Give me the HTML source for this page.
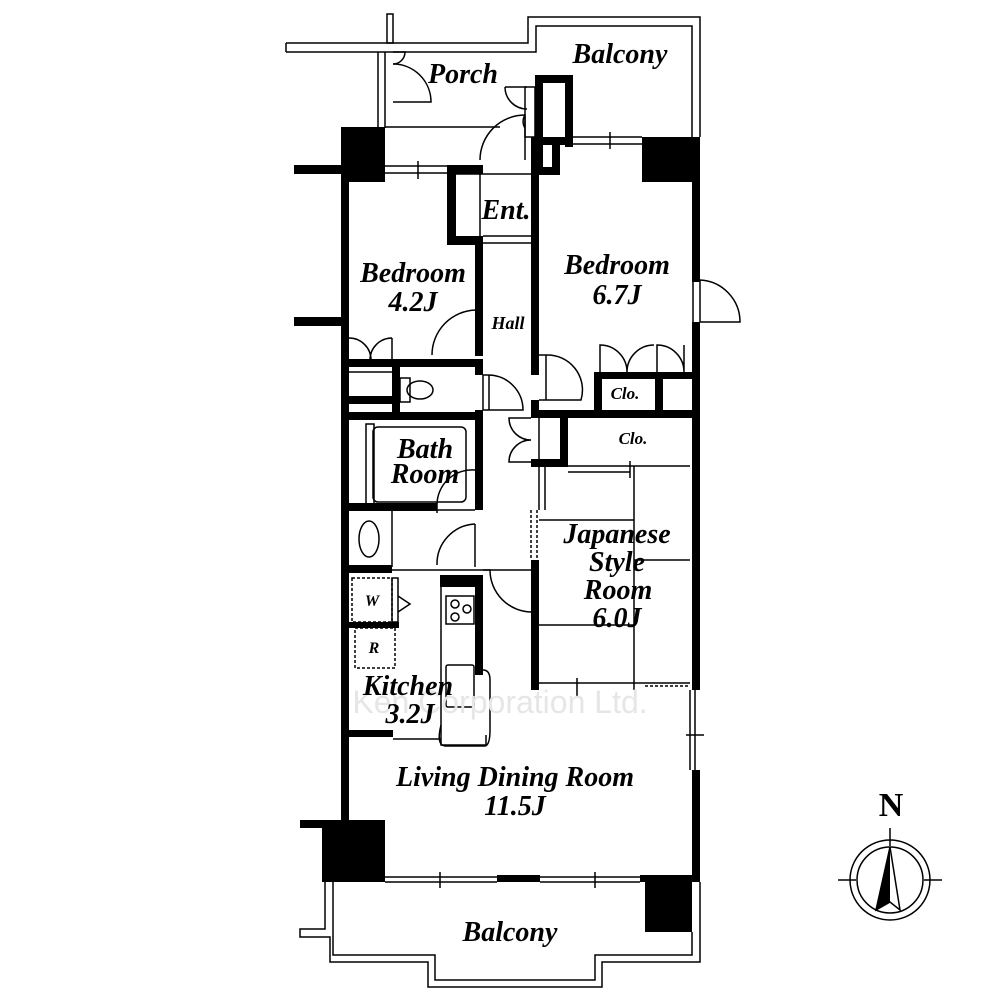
<!DOCTYPE html>
<html><head><meta charset="utf-8"><style>
html,body{margin:0;padding:0;background:#fff}
svg{display:block}
text{font-family:"Liberation Serif",serif;font-weight:bold;font-style:italic;fill:#000;text-anchor:middle}
</style></head><body>
<svg width="1000" height="1000" viewBox="0 0 1000 1000" xmlns="http://www.w3.org/2000/svg">
<g fill="none" stroke="#000" stroke-width="1.5">
<path d="M286,43 H528 V17 H700 V137"/>
<path d="M286,52 H536 V26 H692 V137"/>
<path d="M286,43 V52"/>
<rect x="387" y="14" width="6" height="29"/>
<path d="M378,52 V128 M385,52 V128"/>
<path d="M385,127 H500"/>
<path d="M393,52 H405 A12,12 0 0 1 393,64"/>
<path d="M393,64 A38,38 0 0 1 431,102 H393"/>
<path d="M480,160 A45,45 0 0 1 525,115 V160"/>
<path d="M505,87 A22,22 0 0 0 527,109"/>
<path d="M505,87 H527 M525,115 A12,12 0 0 0 525,128"/>
<rect x="525" y="87" width="10" height="50"/>
<path d="M385,166 H447 M385,173 H447 M418,161 V179"/>
<path d="M573,137 H642 M573,144 H642 M610,132 V149"/>
<path d="M456,174 H531 M483,236 H531 M483,243 H531 M480,174 V243"/>
<path d="M432,355 A45,45 0 0 1 476,310 V355"/>
<path d="M349,338 A22,22 0 0 1 371,360 M392,338 A22,22 0 0 0 370,360 M392,338 V360"/>
<path d="M349,366 H392 M349,372 H392"/>
<rect x="400" y="378" width="10" height="24"/>
<ellipse cx="420" cy="390" rx="13" ry="9"/>
<path d="M483,375 H488 A35,35 0 0 1 523,410 H483"/>
<path d="M483,375 V410 M489,375 V410"/>
<path d="M531,418 H509 A22,22 0 0 0 531,440 M531,462 H509 A22,22 0 0 1 531,440 M539,418 V462"/>
<path d="M539,355 H546 A35,35 0 0 1 581,400 H539 M546,355 V400"/>
<path d="M600,372 V345 A27,27 0 0 1 627,372 M654,345 A27,27 0 0 0 627,372 M657,372 V345 A27,27 0 0 1 684,372 M684,345 V372"/>
<path d="M700,280 A42,42 0 0 1 740,322 H700 M700,280 V322 M693,280 V322"/>
<rect x="373" y="427" width="93" height="75" rx="5"/>
<rect x="366" y="424" width="8" height="82"/>
<path d="M437,505 A35,35 0 0 1 475,470 M437,505 V513"/>
<path d="M349,510 H475 M392,510 V567"/>
<ellipse cx="369" cy="539" rx="10" ry="18"/>
<path d="M437,565 A40,40 0 0 1 475,524 M475,524 V567"/>
<path d="M392,570 H531"/>
<path d="M441,580 V745 H486 V735"/>
<rect x="446" y="596" width="28" height="28"/>
<circle cx="455" cy="604" r="4"/><circle cx="467" cy="609" r="4"/><circle cx="455" cy="617" r="4"/>
<rect x="446" y="665" width="28" height="42" rx="2"/>
<path d="M441,725 Q436,745 445,746 H485 Q490,745 490,730 V680 Q490,670 483,670"/>
<path d="M393,739 H441"/>
<path d="M483,570 H490 A42,42 0 0 0 532,612 V570"/>
<rect x="352" y="578" width="40" height="44" stroke-dasharray="3,2"/>
<rect x="392" y="578" width="6" height="44"/>
<path d="M398,596 L410,604 L398,612"/>
<rect x="355" y="628" width="40" height="40" stroke-dasharray="3,2"/>
<path d="M634,466 V690 M539,520 H634 M634,560 H690 M539,625 H634"/>
<path d="M568,466 H690 M568,472 H630 M630,461 V478"/>
<path d="M539,466 V510 M545,466 V510"/>
<path d="M531,510 V560 M537,510 V560" stroke-dasharray="3,2"/>
<path d="M539,683 H640 M577,678 V696 M640,683 H690"/>
<path d="M645,686 H690" stroke-dasharray="3,2"/>
<path d="M690,690 V770 M695,690 V770 M686,735 H704"/>
<path d="M385,877 H497 M385,882 H497 M440,872 V888 M540,877 H640 M540,882 H640 M595,872 V888"/>
<path d="M325,882 V929 H300 V937 H330 V962 H428 V987 H602 V962 H700 V882"/>
<path d="M333,882 V955 H435 V980 H595 V955 H692 V932"/>
<circle cx="890" cy="880" r="40"/>
<circle cx="890" cy="880" r="33"/>
<path d="M838,880 H856 M924,880 H942 M890,828 V846"/>
<path d="M890,847 L876,910 L890,902 L900,910 Z"/>
</g>
<g fill="#000">
<rect x="535" y="75" width="38" height="8"/><rect x="535" y="75" width="8" height="62"/><rect x="565" y="75" width="8" height="72"/>
<rect x="535" y="137" width="38" height="8"/>
<rect x="535" y="145" width="8" height="30"/><rect x="552" y="145" width="8" height="22"/><rect x="535" y="167" width="25" height="8"/>
<rect x="341" y="127" width="44" height="55"/>
<rect x="294" y="165" width="50" height="9"/>
<rect x="294" y="317" width="50" height="9"/>
<rect x="341" y="182" width="8" height="640"/>
<rect x="447" y="165" width="36" height="9"/>
<rect x="447" y="165" width="9" height="80"/>
<rect x="447" y="236" width="36" height="9"/>
<rect x="475" y="236" width="8" height="120"/>
<rect x="531" y="137" width="8" height="238"/>
<rect x="531" y="400" width="8" height="18"/>
<rect x="642" y="137" width="58" height="45"/>
<rect x="692" y="182" width="8" height="100"/>
<rect x="692" y="322" width="8" height="368"/>
<rect x="692" y="770" width="8" height="112"/>
<rect x="349" y="359" width="134" height="8"/>
<rect x="475" y="359" width="8" height="16"/>
<rect x="392" y="359" width="8" height="53"/>
<rect x="349" y="396" width="43" height="8"/>
<rect x="349" y="412" width="134" height="8"/>
<rect x="475" y="410" width="8" height="100"/>
<rect x="349" y="503" width="88" height="8"/>
<rect x="349" y="565" width="43" height="8"/>
<rect x="349" y="622" width="50" height="6"/>
<rect x="440" y="575" width="40" height="12"/>
<rect x="475" y="575" width="8" height="100"/>
<rect x="349" y="730" width="44" height="7"/>
<rect x="594" y="372" width="8" height="44"/>
<rect x="594" y="372" width="98" height="7"/>
<rect x="655" y="372" width="8" height="44"/>
<rect x="531" y="410" width="161" height="8"/>
<rect x="560" y="410" width="8" height="56"/>
<rect x="531" y="459" width="37" height="8"/>
<rect x="531" y="560" width="8" height="130"/>
<rect x="300" y="820" width="85" height="8"/>
<rect x="322" y="820" width="63" height="62"/>
<rect x="497" y="875" width="43" height="7"/>
<rect x="640" y="875" width="52" height="7"/>
<rect x="645" y="875" width="47" height="57"/>
<path d="M890,847 L876,910 L890,902 Z"/>
</g>
<text x="500" y="713" style="font-style:normal;font-weight:normal;font-family:'Liberation Sans',sans-serif;fill:#e6e6e6" font-size="32">Ken Corporation Ltd.</text>
<text x="463" y="83" font-size="28">Porch</text>
<text x="620" y="63" font-size="28">Balcony</text>
<text x="506" y="219" font-size="28">Ent.</text>
<text x="413" y="282" font-size="28">Bedroom</text>
<text x="413" y="311" font-size="28">4.2J</text>
<text x="508" y="329" font-size="18">Hall</text>
<text x="617" y="274" font-size="28">Bedroom</text>
<text x="617" y="304" font-size="28">6.7J</text>
<text x="625" y="399" font-size="17">Clo.</text>
<text x="633" y="444" font-size="17">Clo.</text>
<text x="425" y="458" font-size="28">Bath</text>
<text x="425" y="483" font-size="28">Room</text>
<text x="617" y="543" font-size="28">Japanese</text>
<text x="617" y="571" font-size="28">Style</text>
<text x="618" y="599" font-size="28">Room</text>
<text x="617" y="627" font-size="28">6.0J</text>
<text x="372" y="606" font-size="16">W</text>
<text x="374" y="653" font-size="16">R</text>
<text x="408" y="695" font-size="28">Kitchen</text>
<text x="410" y="723" font-size="28">3.2J</text>
<text x="515" y="786" font-size="28">Living Dining Room</text>
<text x="515" y="815" font-size="28">11.5J</text>
<text x="510" y="941" font-size="28">Balcony</text>
<text x="891" y="816" font-size="34" style="font-style:normal">N</text>
</svg>
</body></html>
